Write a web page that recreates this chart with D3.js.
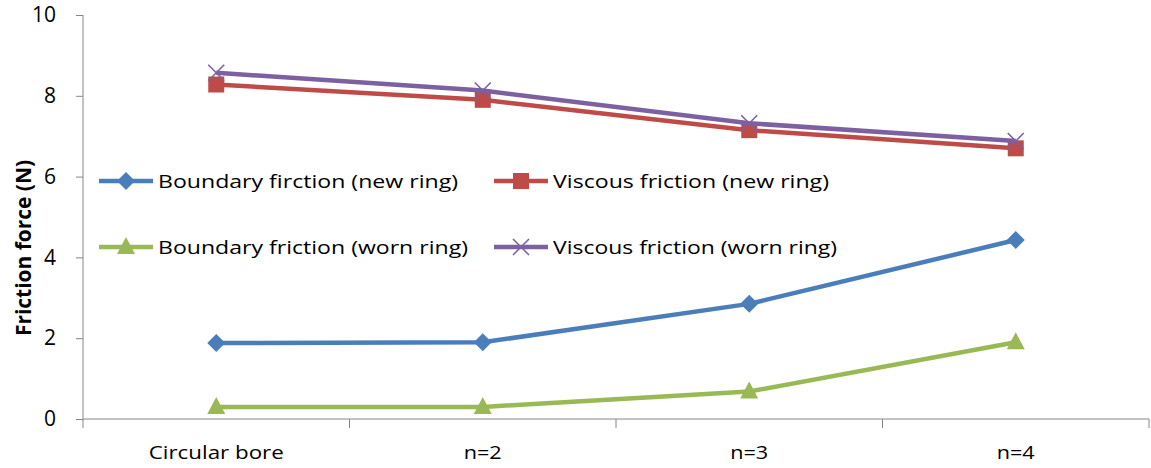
<!DOCTYPE html>
<html><head><meta charset="utf-8">
<script src="https://cdn.jsdelivr.net/npm/d3@7"></script>
<style>body{margin:0;background:#fff}svg{display:block}text{font-family:"Open Sans",Lato,sans-serif;fill:#000}</style>
</head><body><svg id="c" width="1151" height="468"></svg>
<script>
const categories = ["Circular bore", "n=2", "n=3", "n=4"];
const boundaryNew = [1.88, 1.9, 2.85, 4.43];
const viscousNew = [8.28, 7.9, 7.15, 6.7];
const boundaryWorn = [0.3, 0.3, 0.68, 1.9];
const viscousWorn = [8.57, 8.13, 7.32, 6.88];
const yTicks = [0, 2, 4, 6, 8, 10];
const seriesNames = ["Boundary firction (new ring)", "Viscous friction (new ring)", "Boundary friction (worn ring)", "Viscous friction (worn ring)"];

const series = [
  {name: seriesNames[0], values: boundaryNew, color: "#4a7ebb", marker: "diamond", len: 300},
  {name: seriesNames[1], values: viscousNew, color: "#be4b48", marker: "square", len: 276},
  {name: seriesNames[2], values: boundaryWorn, color: "#98b954", marker: "triangle", len: 310},
  {name: seriesNames[3], values: viscousWorn, color: "#7d60a0", marker: "x", len: 284}
];
const catLens = [135, 38, 38, 38];

const svg = d3.select("#c");
const x = d3.scaleBand().domain(categories).range([83, 1149]);
const y = d3.scaleLinear().domain([0, 10]).range([419, 15]);
const cx = c => x(c) + x.bandwidth() / 2;

// axes
const yAxis = d3.axisLeft(y).tickValues(yTicks).tickSize(7).tickPadding(20);
const gy = svg.append("g").attr("transform", "translate(83,0)").call(yAxis);
gy.select(".domain").attr("stroke", "#868686").attr("d", "M0,15V419");
gy.selectAll(".tick line").attr("stroke", "#868686");
gy.selectAll(".tick text").style("font-size", "21px").attr("fill", "#111").style("font-family", "'Open Sans',sans-serif");

const xAxis = d3.axisBottom(x).tickSize(0).tickPadding(27);
const gx = svg.append("g").attr("transform", "translate(0,419)").call(xAxis);
gx.select(".domain").attr("stroke", "#868686").attr("d", "M83,0H1149");
gx.selectAll(".tick text").style("font-size", "19px").attr("fill", "#000").style("font-family", "'Open Sans',sans-serif")
  .attr("textLength", (d, i) => catLens[i]).attr("lengthAdjust", "spacingAndGlyphs");
const bounds = categories.map(c => x(c)).concat([x(categories[categories.length - 1]) + x.bandwidth()]);
gx.selectAll(".btick").data(bounds).enter().append("line")
  .attr("x1", d => d).attr("x2", d => d).attr("y1", 0).attr("y2", 9).attr("stroke", "#868686");

// title
svg.append("text").attr("transform", "translate(31,248) rotate(-90)")
  .attr("text-anchor", "middle").style("font-size", "22px").style("font-weight", "bold")
  .attr("textLength", 176).attr("lengthAdjust", "spacingAndGlyphs")
  .text("Friction force (N)");

function drawMarker(g, type, color, px, py) {
  if (type === "diamond") {
    g.append("path").attr("d", `M${px},${py-9}L${px+9},${py}L${px},${py+9}L${px-9},${py}Z`).attr("fill", color);
  } else if (type === "square") {
    g.append("rect").attr("x", px - 8).attr("y", py - 8).attr("width", 16).attr("height", 16).attr("fill", color);
  } else if (type === "triangle") {
    g.append("path").attr("d", `M${px},${py-10}L${px+9},${py+7}L${px-9},${py+7}Z`).attr("fill", color);
  } else {
    g.append("path").attr("d", `M${px-8},${py-8}L${px+8},${py+8}M${px+8},${py-8}L${px-8},${py+8}`)
      .attr("stroke", color).attr("stroke-width", 1.6).attr("fill", "none");
  }
}

const line = d3.line().x((d, i) => cx(categories[i])).y(d => y(d));
const order = [2, 0, 1, 3];
order.forEach(k => {
  const s = series[k];
  const g = svg.append("g");
  g.append("path").attr("d", line(s.values)).attr("fill", "none").attr("stroke", s.color)
    .attr("stroke-width", 4.5).attr("stroke-linejoin", "round");
  s.values.forEach((v, i) => drawMarker(g, s.marker, s.color, cx(categories[i]), y(v)));
});

// legend
const legPos = [[99, 181], [494, 181], [99, 247], [494, 247]];
series.forEach((s, i) => {
  const [lx, ly] = legPos[i];
  const g = svg.append("g");
  g.append("line").attr("x1", lx).attr("x2", lx + 54).attr("y1", ly).attr("y2", ly)
    .attr("stroke", s.color).attr("stroke-width", 4.5);
  drawMarker(g, s.marker, s.color, lx + 27, ly);
  g.append("text").attr("x", lx + 59).attr("y", ly + 7).style("font-size", "19px")
    .attr("textLength", s.len).attr("lengthAdjust", "spacingAndGlyphs").text(s.name);
});
</script></body></html>
